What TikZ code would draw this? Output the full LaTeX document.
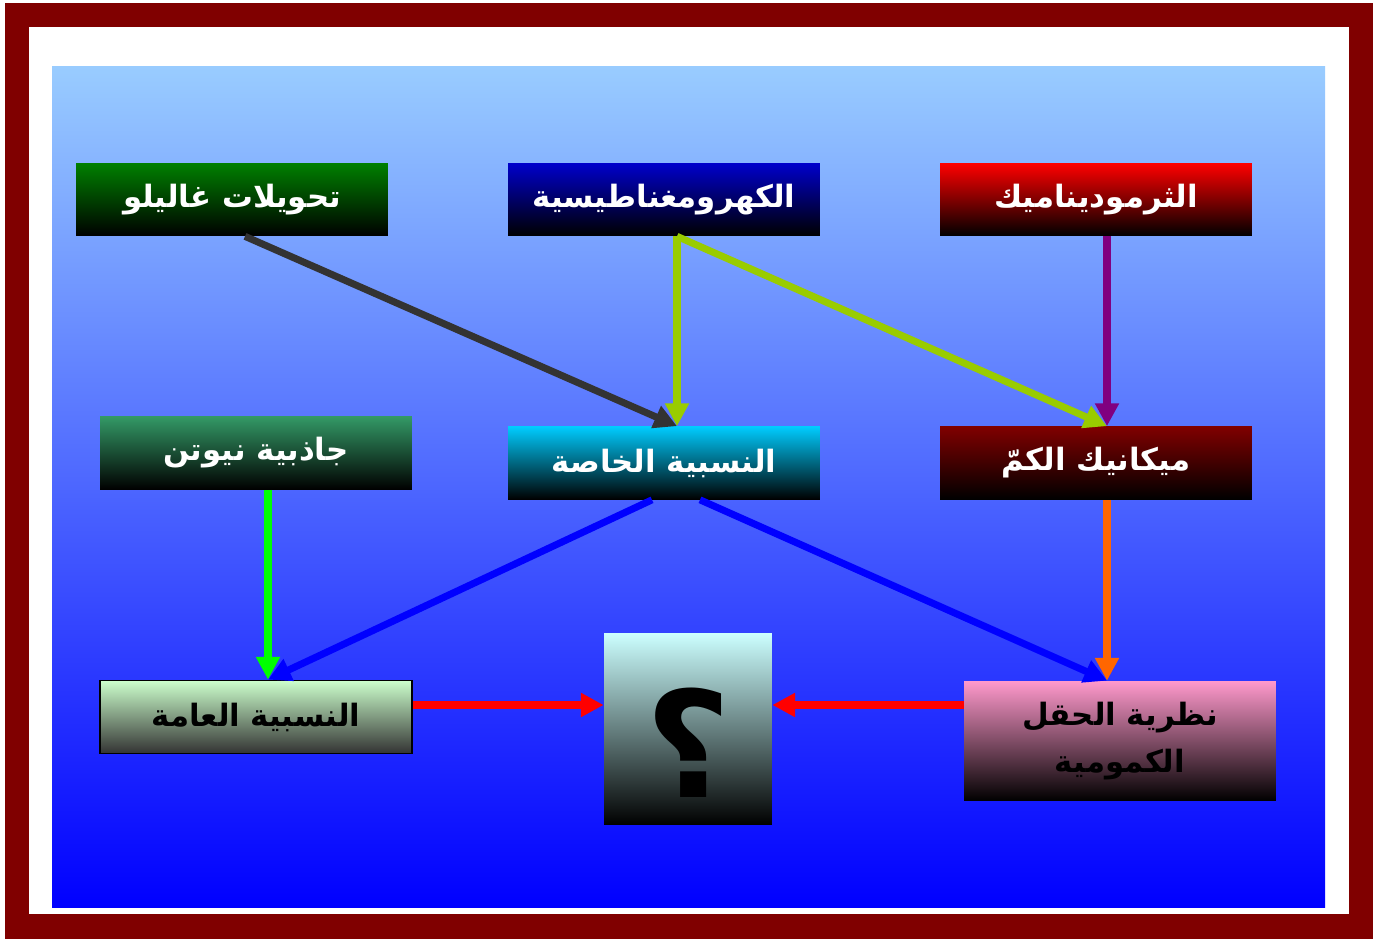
\documentclass[tikz,border=0pt]{standalone}
\usepackage{fontspec}
\usetikzlibrary{arrows.meta,calc,positioning}
\TeXXeTstate=1
\newfontfamily\arabicfont[Script=Arabic]{DejaVu Sans}
\definecolor{framered}{HTML}{800000}
\definecolor{paneltop}{HTML}{99CCFF}
\definecolor{panelbot}{HTML}{0000FF}
\definecolor{galgreen}{HTML}{008000}
\definecolor{emblue}{HTML}{0000CC}
\definecolor{thermored}{HTML}{FF0000}
\definecolor{newtongreen}{HTML}{339966}
\definecolor{srcyan}{HTML}{00CCFF}
\definecolor{qmred}{HTML}{800000}
\definecolor{grgreen}{HTML}{CCFFCC}
\definecolor{qftpink}{HTML}{FF99CC}
\definecolor{qcyan}{HTML}{CCFFFF}
\definecolor{darkgrey}{HTML}{333333}
\definecolor{limegreen}{HTML}{99CC00}
\definecolor{purpl}{HTML}{800080}
\definecolor{brightgreen}{HTML}{00FF00}
\definecolor{orng}{HTML}{FF6600}
\tikzset{
  topic/.style={rectangle,minimum width=6.24cm,minimum height=1.46cm,inner sep=0pt,align=center,
    font=\arabicfont\bfseries\fontsize{17.5}{27}\selectfont,text=white},
  link/.style={->,line width=4pt}
}

\begin{document}
\begin{tikzpicture}[x=0.02cm,y=0.02cm,>={Triangle[length=13pt,width=13pt]}]
  \useasboundingbox[fill=white] (0,0) rectangle (1376,-939);
  % frame and panel
  \fill[framered] (5,-3) rectangle (1373,-939);
  \fill[white] (29,-27) rectangle (1349,-914);
  \shade[top color=paneltop,bottom color=panelbot] (52,-67) rectangle (1325,-907);

  % top row
  \node[topic,top color=galgreen,bottom color=black] (galileo) at (232,-199.5) {\beginR تحويلات غاليلو\endR};
  \node[topic,top color=emblue,bottom color=black] (em) at (664,-199.5) {\beginR الكهرومغناطيسية\endR};
  \node[topic,top color=thermored,bottom color=black] (thermo) at (1096,-199.5) {\beginR الثرموديناميك\endR};
  % middle row
  \node[topic,top color=newtongreen,bottom color=black] (newton) at (256,-453) {\beginR جاذبية نيوتن\endR};
  \node[topic,top color=srcyan,bottom color=black] (special) at (664,-463) {\beginR النسبية الخاصة\endR};
  \node[topic,top color=qmred,bottom color=black] (quantum) at (1096,-463) {\beginR ميكانيك الكمّ\endR};
  % bottom row
  \node[topic,draw=black,line width=1pt,top color=grgreen,bottom color=darkgrey,text=black] (general) at (256,-717) {\beginR النسبية العامة\endR};
  \node[topic,minimum width=3.36cm,minimum height=3.84cm,top color=qcyan,bottom color=black,text=black,
    text height=2.9cm,text depth=0.16cm,
    font=\arabicfont\bfseries\fontsize{84}{84}\selectfont] (unknown) at (688,-729) {؟};
  \node[topic,minimum height=2.4cm,top color=qftpink,bottom color=black,text=black] (qft) at (1120,-741)
    {\beginR نظرية الحقل\endR\\\beginR الكمومية\endR};

  % connectors
  \draw[link,darkgrey] ($(galileo.south)+(13,0)$) -- ($(special.north)+(13,0)$);
  \draw[link,limegreen] ($(em.south)+(13,0)$) -- ($(special.north)+(13,0)$);
  \draw[link,limegreen] ($(em.south)+(13,0)$) -- ($(quantum.north)+(11,0)$);
  \draw[link,purpl] ($(thermo.south)+(11,0)$) -- ($(quantum.north)+(11,0)$);
  \draw[link,brightgreen] ($(newton.south)+(12,0)$) -- ($(general.north)+(12,0)$);
  \draw[link,blue] ($(special.south)+(-12,0)$) -- ($(general.north)+(12,0)$);
  \draw[link,blue] ($(special.south)+(36,0)$) -- ($(qft.north)+(-13,0)$);
  \draw[link,orng] ($(quantum.south)+(11,0)$) -- ($(qft.north)+(-13,0)$);
  \draw[link,red] ($(general.east)+(0,12)$) -- ($(unknown.west)+(0,24)$);
  \draw[link,red] ($(qft.west)+(0,36)$) -- ($(unknown.east)+(0,24)$);
\end{tikzpicture}
\end{document}
